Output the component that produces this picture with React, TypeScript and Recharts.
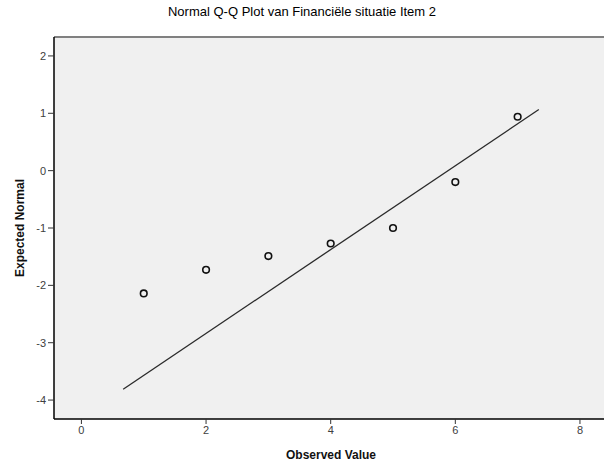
import React from 'react';
import { ComposedChart, Scatter, XAxis, YAxis, CartesianGrid, ReferenceLine } from 'recharts';

// observed values and their expected normal quantiles
const observed = [1, 2, 3, 4, 5, 6, 7];
const expected = [-2.14, -1.73, -1.49, -1.27, -1.0, -0.2, 0.94];

// ends of the reference line
const lineX = [0.67, 7.34];
const lineY = [-3.81, 1.065];

const xTicks = [0, 2, 4, 6, 8];
const yTicks = [-4, -3, -2, -1, 0, 1, 2];

const points = observed.map((x, i) => ({ x, y: expected[i] }));
const refLine = lineX.map((x, i) => ({ x, y: lineY[i] }));

const FONT = '"Liberation Sans", Arial, sans-serif';

const Ring = (props: any) => (
  <circle cx={props.cx} cy={props.cy} r={3.3} fill="none" stroke="#111" strokeWidth={1.6} />
);

const NoDot = () => <g />;

const YLabel = ({ viewBox }: any) => {
  const cy = viewBox.y + viewBox.height / 2;
  return (
    <text
      x={20}
      y={cy}
      transform={`rotate(-90, 20, ${cy})`}
      textAnchor="middle"
      dominantBaseline="central"
      fontFamily={FONT}
      fontSize={12}
      fontWeight="bold"
      fill="#111"
    >
      Expected Normal
    </text>
  );
};

const XLabel = () => (
  <text
    x={331}
    y={455}
    textAnchor="middle"
    dominantBaseline="central"
    fontFamily={FONT}
    fontSize={12}
    fontWeight="bold"
    fill="#111"
  >
    Observed Value
  </text>
);

export default function App() {
  return (
    <div
      style={{
        position: 'absolute',
        left: 0,
        top: 0,
        width: 604,
        height: 469,
        overflow: 'hidden',
        background: '#fff',
      }}
    >
      <div
        style={{
          position: 'absolute',
          top: 4,
          left: 0,
          width: 604,
          textAlign: 'center',
          fontFamily: FONT,
          fontSize: 13,
          lineHeight: '16px',
          color: '#000',
        }}
      >
        Normal Q-Q Plot van Financiële situatie Item 2
      </div>
      <ComposedChart width={608} height={469} margin={{ top: 37, right: 0, bottom: 0, left: 0 }}>
        <CartesianGrid fill="#f0f0f0" horizontal={false} vertical={false} />
        <XAxis
          type="number"
          dataKey="x"
          domain={[-0.44, 8.45]}
          allowDataOverflow
          ticks={xTicks}
          height={50}
          tickSize={5}
          tickMargin={2}
          axisLine={{ stroke: '#000', strokeWidth: 1.5 }}
          tickLine={{ stroke: '#333' }}
          tick={{ fontFamily: FONT, fontSize: 11, fill: '#404040' }}
          label={<XLabel />}
        />
        <YAxis
          type="number"
          dataKey="y"
          domain={[-4.33, 2.33]}
          allowDataOverflow
          ticks={yTicks}
          width={54}
          tickSize={6}
          tickMargin={2}
          axisLine={{ stroke: '#000', strokeWidth: 1.5 }}
          tickLine={{ stroke: '#333' }}
          tick={{ fontFamily: FONT, fontSize: 11, fill: '#404040' }}
          label={<YLabel />}
        />
        <ReferenceLine y={2.33} stroke="#808080" strokeWidth={2} />
        <Scatter
          data={refLine}
          line={{ stroke: '#2a2a2a', strokeWidth: 1.3 }}
          shape={<NoDot />}
          isAnimationActive={false}
        />
        <Scatter data={points} shape={<Ring />} isAnimationActive={false} />
      </ComposedChart>
    </div>
  );
}
